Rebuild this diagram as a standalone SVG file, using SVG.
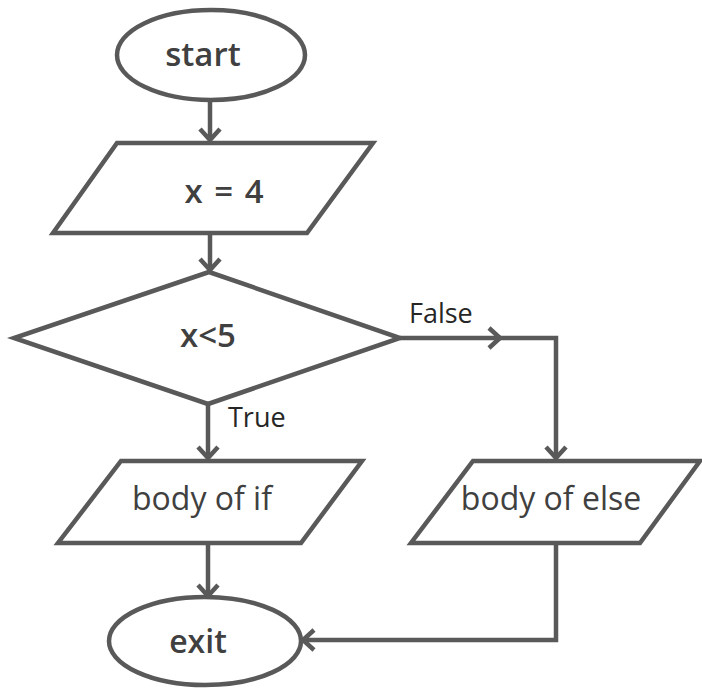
<svg xmlns="http://www.w3.org/2000/svg" width="702" height="688" viewBox="0 0 702 688">
  <style>
    .shape { fill: #ffffff; stroke: #595959; stroke-width: 4.5; stroke-linejoin: miter; }
    .edge { fill: none; stroke: #595959; stroke-width: 4.5; }
    .lbl { font-family: "Open Sans", "Liberation Sans", sans-serif; fill: #404040; text-anchor: middle; }
    .big { font-size: 33px; font-weight: 600; }
    .mid { font-size: 32px; }
    .edge-lbl { font-family: "Open Sans", "Liberation Sans", sans-serif; fill: #262626; font-size: 27px; }
  </style>
  <defs>
    <marker id="arrow" viewBox="-14 -12 16 24" markerWidth="16" markerHeight="24" refX="0" refY="0" orient="auto" markerUnits="userSpaceOnUse">
      <path d="M-11,-10 L0,0 L-11,10" fill="none" stroke="#595959" stroke-width="4.5"/>
    </marker>
  </defs>
  <rect width="702" height="688" fill="#ffffff"/>

  <g id="connectors">
    <line class="edge" x1="210" y1="101" x2="210" y2="140" marker-end="url(#arrow)"/>
    <line class="edge" x1="210" y1="233" x2="210" y2="270" marker-end="url(#arrow)"/>
    <line class="edge" x1="208" y1="404" x2="208" y2="458" marker-end="url(#arrow)"/>
    <line class="edge" x1="400" y1="338" x2="500" y2="338" marker-end="url(#arrow)"/>
    <polyline class="edge" points="498,338 556,338 556,458" marker-end="url(#arrow)"/>
    <line class="edge" x1="208" y1="543" x2="208" y2="596" marker-end="url(#arrow)"/>
    <polyline class="edge" points="556,543 556,640 303,640" marker-end="url(#arrow)"/>
    <text class="edge-lbl" x="228" y="427">True</text>
    <text class="edge-lbl" x="409" y="323">False</text>
  </g>

  <g id="start">
    <ellipse class="shape" cx="211" cy="55" rx="94" ry="45"/>
    <text class="lbl big" x="203" y="66">start</text>
  </g>

  <g id="assign">
    <polygon class="shape" points="117,143 373,143 307,233 53,233"/>
    <text class="lbl big" x="224" y="203" word-spacing="3">x = 4</text>
  </g>

  <g id="condition">
    <polygon class="shape" points="209,272 400,338 208,404 14,338"/>
    <text class="lbl big" x="208" y="347" font-size="34">x&lt;5</text>
  </g>

  <g id="body-if">
    <polygon class="shape" points="121,461 362,461 301,543 58,543"/>
    <text class="lbl mid" x="202" y="510">body of if</text>
  </g>

  <g id="body-else">
    <polygon class="shape" points="473,461 700,461 640,543 411,543"/>
    <text class="lbl mid" x="551" y="510">body of else</text>
  </g>

  <g id="exit">
    <ellipse class="shape" cx="205" cy="641" rx="96" ry="44"/>
    <text class="lbl mid" x="198" y="653" font-weight="600">exit</text>
  </g>
</svg>
